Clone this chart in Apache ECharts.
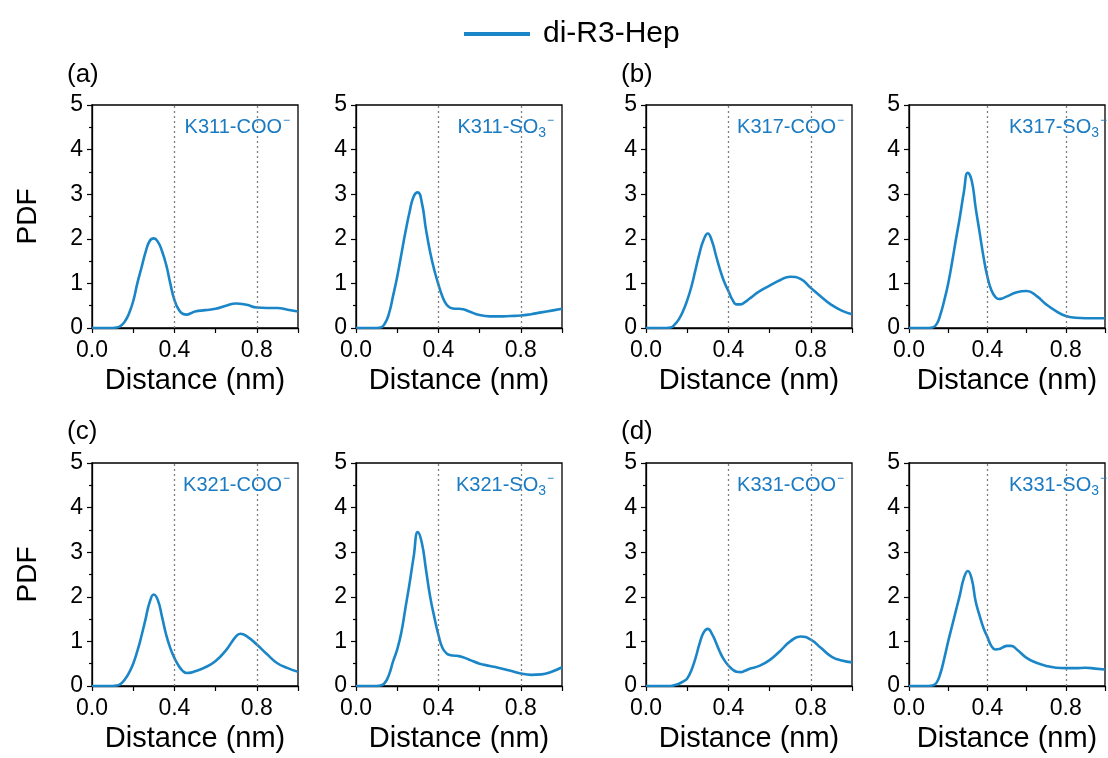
<!DOCTYPE html>
<html>
<head>
<meta charset="utf-8">
<style>
  html, body { margin: 0; padding: 0; background: #fff; }
  #chart { width: 1108px; height: 758px; }
</style>
<script src="https://cdn.jsdelivr.net/npm/echarts@6/dist/echarts.min.js"></script>
</head>
<body>
<div id="chart"></div>
<script>
// Probability density of Lys–heparin group distances (nm), one curve per contact pair
const seriesName = 'di-R3-Hep';
const xTickLabels = ['0.0', '0.4', '0.8'];
const yTickLabels = ['0', '1', '2', '3', '4', '5'];
const cutoffs = [0.4, 0.8];

const k311Coo = [[0,0],[0.10,0],[0.12,0.01],[0.14,0.05],[0.16,0.15],[0.18,0.33],[0.20,0.6],[0.22,1.0],[0.24,1.35],[0.26,1.7],[0.28,1.95],[0.30,2.01],[0.32,1.93],[0.34,1.72],[0.36,1.42],[0.38,1.0],[0.40,0.63],[0.42,0.42],[0.44,0.32],[0.46,0.30],[0.48,0.33],[0.50,0.37],[0.55,0.40],[0.60,0.43],[0.65,0.50],[0.70,0.55],[0.75,0.52],[0.80,0.46],[0.85,0.45],[0.90,0.45],[0.95,0.41],[1.0,0.37]];
const k311So3 = [[0,0],[0.10,0],[0.12,0.01],[0.14,0.1],[0.16,0.32],[0.18,0.72],[0.20,1.15],[0.22,1.65],[0.24,2.15],[0.26,2.6],[0.28,2.95],[0.30,3.04],[0.32,2.8],[0.34,2.2],[0.36,1.7],[0.38,1.3],[0.40,0.98],[0.42,0.7],[0.44,0.52],[0.46,0.45],[0.48,0.43],[0.50,0.43],[0.52,0.42],[0.55,0.37],[0.60,0.29],[0.65,0.26],[0.70,0.26],[0.75,0.27],[0.80,0.28],[0.85,0.31],[0.90,0.35],[0.95,0.39],[1.0,0.43]];
const k317Coo = [[0,0],[0.10,0],[0.12,0.01],[0.14,0.08],[0.16,0.2],[0.18,0.38],[0.20,0.62],[0.22,0.92],[0.24,1.3],[0.26,1.68],[0.28,1.98],[0.30,2.12],[0.32,1.95],[0.34,1.62],[0.36,1.3],[0.38,1.03],[0.40,0.83],[0.42,0.63],[0.44,0.53],[0.46,0.53],[0.48,0.58],[0.50,0.65],[0.55,0.82],[0.60,0.95],[0.65,1.07],[0.70,1.15],[0.75,1.1],[0.80,0.9],[0.85,0.7],[0.90,0.52],[0.95,0.39],[1.0,0.31]];
const k317So3 = [[0,0],[0.10,0],[0.12,0.01],[0.14,0.08],[0.16,0.3],[0.18,0.62],[0.20,1.0],[0.22,1.48],[0.24,2.0],[0.26,2.5],[0.28,3.05],[0.30,3.48],[0.32,3.3],[0.34,2.7],[0.36,2.15],[0.38,1.6],[0.40,1.15],[0.42,0.85],[0.44,0.7],[0.46,0.65],[0.48,0.67],[0.50,0.71],[0.55,0.8],[0.60,0.83],[0.65,0.72],[0.70,0.53],[0.75,0.38],[0.80,0.27],[0.85,0.23],[0.90,0.22],[0.95,0.22],[1.0,0.22]];
const k321Coo = [[0,0],[0.10,0],[0.12,0.01],[0.14,0.05],[0.16,0.15],[0.18,0.3],[0.20,0.5],[0.22,0.78],[0.24,1.12],[0.26,1.5],[0.28,1.88],[0.30,2.05],[0.32,1.92],[0.34,1.55],[0.36,1.15],[0.38,0.85],[0.40,0.63],[0.42,0.46],[0.44,0.34],[0.46,0.29],[0.48,0.3],[0.50,0.33],[0.55,0.42],[0.60,0.56],[0.65,0.8],[0.70,1.12],[0.72,1.17],[0.75,1.12],[0.80,0.93],[0.85,0.71],[0.90,0.51],[0.95,0.4],[1.0,0.32]];
const k321So3 = [[0,0],[0.10,0],[0.12,0.01],[0.14,0.07],[0.16,0.25],[0.18,0.55],[0.20,0.82],[0.22,1.2],[0.24,1.75],[0.26,2.3],[0.28,2.9],[0.30,3.45],[0.32,3.2],[0.34,2.6],[0.36,2.0],[0.38,1.55],[0.40,1.15],[0.42,0.85],[0.44,0.73],[0.46,0.69],[0.48,0.68],[0.50,0.67],[0.55,0.59],[0.60,0.5],[0.65,0.45],[0.70,0.4],[0.75,0.34],[0.80,0.28],[0.85,0.25],[0.90,0.26],[0.95,0.32],[1.0,0.42]];
const k331Coo = [[0,0],[0.12,0],[0.14,0.02],[0.16,0.05],[0.18,0.1],[0.20,0.17],[0.22,0.35],[0.24,0.62],[0.26,0.95],[0.28,1.2],[0.30,1.28],[0.32,1.17],[0.34,0.97],[0.36,0.75],[0.38,0.58],[0.40,0.46],[0.42,0.37],[0.44,0.32],[0.46,0.31],[0.48,0.34],[0.50,0.38],[0.55,0.45],[0.60,0.58],[0.65,0.78],[0.70,1.0],[0.75,1.11],[0.80,1.04],[0.85,0.85],[0.90,0.66],[0.95,0.57],[1.0,0.53]];
const k331So3 = [[0,0],[0.10,0],[0.12,0.01],[0.14,0.07],[0.16,0.28],[0.18,0.62],[0.20,1.0],[0.22,1.35],[0.24,1.7],[0.26,2.05],[0.28,2.42],[0.30,2.58],[0.32,2.4],[0.34,1.9],[0.36,1.58],[0.38,1.3],[0.40,1.1],[0.42,0.9],[0.44,0.82],[0.46,0.83],[0.48,0.87],[0.50,0.9],[0.52,0.9],[0.55,0.82],[0.60,0.63],[0.65,0.52],[0.70,0.45],[0.75,0.41],[0.80,0.40],[0.85,0.40],[0.90,0.41],[0.95,0.39],[1.0,0.37]];

// residue, group and curve for each small plot, left-to-right, top-to-bottom
const panels = [
  { res: 'K311', grp: 'COO', data: k311Coo },
  { res: 'K311', grp: 'SO3', data: k311So3 },
  { res: 'K317', grp: 'COO', data: k317Coo },
  { res: 'K317', grp: 'SO3', data: k317So3 },
  { res: 'K321', grp: 'COO', data: k321Coo },
  { res: 'K321', grp: 'SO3', data: k321So3 },
  { res: 'K331', grp: 'COO', data: k331Coo },
  { res: 'K331', grp: 'SO3', data: k331So3 }
];
const groupLetters = ['(a)', '(b)', '(c)', '(d)'];

// page layout
const colLeft = [92, 356, 646, 909];
const rowTop = [105, 463];
const plotW = 206, plotH = 223;
const blue = '#1b86c7';
const labelBlue = '#1a7bc3';
const font = 'Liberation Sans, Arial, sans-serif';

const grids = [], xAxes = [], yAxes = [], series = [], graphics = [];

panels.forEach((p, i) => {
  const col = i % 4, row = Math.floor(i / 4);
  const left = colLeft[col], top = rowTop[row];
  grids.push({
    left: left, top: top, width: plotW, height: plotH,
    show: true, borderColor: '#000', borderWidth: 1.3, backgroundColor: 'transparent'
  });
  xAxes.push({
    gridIndex: i, type: 'value', min: 0, max: 1, interval: 0.2,
    name: 'Distance (nm)', nameLocation: 'middle', nameGap: 38,
    nameTextStyle: { fontFamily: font, fontSize: 29, color: '#000' },
    axisLine: { show: true, onZero: false, lineStyle: { color: '#000', width: 1.3 } },
    axisTick: { show: true, inside: false, length: 5, lineStyle: { color: '#000', width: 1.2 } },
    splitLine: { show: false },
    axisLabel: {
      margin: 11, fontFamily: font, fontSize: 23, color: '#000',
      formatter: v => { const s = v.toFixed(1); return xTickLabels.indexOf(s) >= 0 ? s : ''; }
    }
  });
  yAxes.push({
    gridIndex: i, type: 'value', min: 0, max: 5, interval: 1,
    name: (col === 0) ? 'PDF' : '', nameLocation: 'middle', nameGap: 50, nameRotate: 90,
    nameTextStyle: { fontFamily: font, fontSize: 28, color: '#000' },
    axisLine: { show: true, onZero: false, lineStyle: { color: '#000', width: 1.3 } },
    axisTick: { show: true, inside: false, length: 5, lineStyle: { color: '#000', width: 1.2 } },
    minorTick: { show: true, splitNumber: 2, length: 3, lineStyle: { color: '#000', width: 1.2 } },
    splitLine: { show: false },
    axisLabel: {
      margin: 9, fontFamily: font, fontSize: 23, color: '#000',
      formatter: v => yTickLabels[Math.round(v)]
    }
  });
  series.push({
    name: seriesName, type: 'line', xAxisIndex: i, yAxisIndex: i,
    data: p.data, smooth: 0.5, showSymbol: false, symbol: 'none',
    lineStyle: { color: blue, width: 2.6 }, itemStyle: { color: blue },
    markLine: {
      silent: true, symbol: ['none', 'none'], label: { show: false },
      lineStyle: { type: [2, 3], color: '#7f7f7f', width: 1.3 },
      data: cutoffs.map(c => ({ xAxis: c }))
    },
    z: 3
  });
  // contact pair label in the upper right corner of each plot
  const txt = p.grp === 'COO'
    ? p.res + '-COO{sup|−}'
    : p.res + '-SO{sub|3}{sup|−}';
  graphics.push({
    type: 'text', z: 10,
    style: {
      x: left + plotW - 8, y: top + 22,
      text: txt, align: 'right', verticalAlign: 'middle',
      fill: labelBlue, font: '20px ' + font,
      rich: {
        sup: { fontSize: 12, fontFamily: font, fill: labelBlue, padding: [0, 0, 12, 1] },
        sub: { fontSize: 14, fontFamily: font, fill: labelBlue, padding: [13, 0, 0, 0] }
      }
    }
  });
});

groupLetters.forEach((g, k) => {
  graphics.push({
    type: 'text',
    style: {
      x: (k % 2 === 0) ? 67 : 621, y: (k < 2) ? 75 : 432,
      text: g, align: 'left', verticalAlign: 'middle',
      fill: '#000', font: '26px ' + font
    }
  });
});

const chart = echarts.init(document.getElementById('chart'), null, { renderer: 'canvas' });
chart.setOption({
  backgroundColor: '#fff',
  animation: false,
  legend: {
    data: [seriesName], left: 459, top: 14,
    icon: 'rect', itemWidth: 66, itemHeight: 4, itemGap: 10,
    textStyle: { fontFamily: font, fontSize: 30, color: '#000', padding: [0, 0, 0, 8] }
  },
  grid: grids,
  xAxis: xAxes,
  yAxis: yAxes,
  series: series,
  graphic: graphics
});
</script>
</body>
</html>
